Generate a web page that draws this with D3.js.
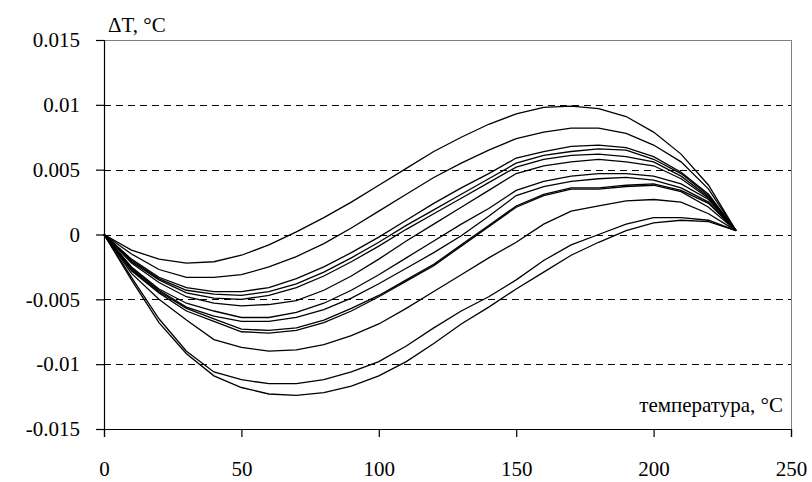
<!DOCTYPE html>
<html>
  <head>
    <meta charset="utf-8" />
    <title>ΔT vs temperature</title>
    <style>
      body { margin: 0; background: #fff; }
      svg text { font-family: "Liberation Serif", "Tinos", "Times New Roman", "DejaVu Serif", serif; fill: #000; }
      .grid line { stroke: #000; stroke-dasharray: 7,5; shape-rendering: crispEdges; }
      .curve { fill: none; stroke: #000; stroke-width: 1.3; }
    </style>
  </head>
  <body>
    <svg width="812" height="482"></svg>

    <script type="text/javascript" src="https://d3js.org/d3.v7.min.js"></script>
    <script type="text/javascript">
      // temperature points, °C
      const temps = [0, 10, 20, 30, 40, 50, 60, 70, 80, 90, 100, 110, 120, 130, 140, 150, 160, 170, 180, 190, 200, 210, 220, 230];

      // ΔT curves, °C (top to bottom)
      const dT1  = [0, -0.0012, -0.0019, -0.0022, -0.0021, -0.0016, -0.0008, 0.0002, 0.0013, 0.0025, 0.0038, 0.0051, 0.0064, 0.0075, 0.0085, 0.0093, 0.0098, 0.0099, 0.0097, 0.0091, 0.0079, 0.0062, 0.0038, 0.0003];
      const dT2  = [0, -0.0015, -0.0027, -0.0033, -0.0033, -0.0031, -0.0025, -0.0017, -0.0007, 0.0005, 0.0018, 0.0031, 0.0044, 0.0055, 0.0065, 0.0074, 0.0079, 0.0082, 0.0082, 0.0078, 0.0069, 0.0056, 0.0035, 0.0003];
      const dT3  = [0, -0.0019, -0.0033, -0.0041, -0.0044, -0.0044, -0.0041, -0.0034, -0.0025, -0.0014, -0.0002, 0.0011, 0.0024, 0.0036, 0.0047, 0.0059, 0.0064, 0.0068, 0.0069, 0.0067, 0.0060, 0.0048, 0.0031, 0.0003];
      const dT4  = [0, -0.0020, -0.0034, -0.0043, -0.0046, -0.0047, -0.0044, -0.0038, -0.0029, -0.0018, -0.0006, 0.0007, 0.0019, 0.0031, 0.0043, 0.0055, 0.0061, 0.0064, 0.0066, 0.0065, 0.0058, 0.0047, 0.0030, 0.0003];
      const dT5  = [0, -0.0021, -0.0035, -0.0045, -0.0049, -0.0050, -0.0047, -0.0041, -0.0032, -0.0021, -0.0009, 0.0004, 0.0016, 0.0028, 0.0040, 0.0052, 0.0058, 0.0061, 0.0062, 0.0060, 0.0056, 0.0045, 0.0029, 0.0003];
      const dT6  = [0, -0.0022, -0.0037, -0.0048, -0.0053, -0.0055, -0.0054, -0.0051, -0.0043, -0.0032, -0.0019, -0.0005, 0.0008, 0.0021, 0.0034, 0.0047, 0.0053, 0.0056, 0.0058, 0.0056, 0.0053, 0.0043, 0.0028, 0.0003];
      const dT7  = [0, -0.0025, -0.0042, -0.0053, -0.0059, -0.0064, -0.0064, -0.0060, -0.0053, -0.0043, -0.0031, -0.0018, -0.0005, 0.0008, 0.0020, 0.0034, 0.0041, 0.0045, 0.0047, 0.0047, 0.0045, 0.0039, 0.0027, 0.0003];
      const dT8  = [0, -0.0026, -0.0043, -0.0056, -0.0063, -0.0067, -0.0067, -0.0064, -0.0058, -0.0049, -0.0038, -0.0026, -0.0014, -0.0001, 0.0014, 0.0030, 0.0037, 0.0041, 0.0043, 0.0044, 0.0042, 0.0036, 0.0025, 0.0003];
      const dT9  = [0, -0.0027, -0.0044, -0.0057, -0.0065, -0.0073, -0.0074, -0.0072, -0.0066, -0.0057, -0.0047, -0.0035, -0.0023, -0.0008, 0.0007, 0.0022, 0.0031, 0.0036, 0.0036, 0.0038, 0.0039, 0.0034, 0.0024, 0.0003];
      const dT10 = [0, -0.0028, -0.0045, -0.0059, -0.0067, -0.0075, -0.0076, -0.0074, -0.0068, -0.0059, -0.0048, -0.0036, -0.0024, -0.0009, 0.0006, 0.0021, 0.0030, 0.0035, 0.0035, 0.0037, 0.0038, 0.0033, 0.0021, 0.0003];
      const dT11 = [0, -0.0030, -0.0050, -0.0066, -0.0081, -0.0087, -0.0090, -0.0089, -0.0085, -0.0078, -0.0069, -0.0057, -0.0044, -0.0031, -0.0018, -0.0006, 0.0008, 0.0018, 0.0022, 0.0026, 0.0027, 0.0025, 0.0016, 0.0003];
      const dT12 = [0, -0.0033, -0.0065, -0.0090, -0.0106, -0.0112, -0.0115, -0.0115, -0.0112, -0.0106, -0.0098, -0.0086, -0.0072, -0.0059, -0.0048, -0.0035, -0.0020, -0.0008, 0.0000, 0.0008, 0.0013, 0.0013, 0.0011, 0.0003];
      const dT13 = [0, -0.0035, -0.0068, -0.0092, -0.0109, -0.0118, -0.0123, -0.0124, -0.0122, -0.0117, -0.0109, -0.0098, -0.0084, -0.0069, -0.0056, -0.0042, -0.0029, -0.0016, -0.0006, 0.0003, 0.0009, 0.0011, 0.0010, 0.0003];

      const series = [dT1, dT2, dT3, dT4, dT5, dT6, dT7, dT8, dT9, dT10, dT11, dT12, dT13];

      // axis ticks
      const xTicks = [0, 50, 100, 150, 200, 250];
      const yTicks = [-0.015, -0.01, -0.005, 0, 0.005, 0.01, 0.015];
      const gridTicks = [-0.01, -0.005, 0, 0.005, 0.01];

      const yTitle = "ΔT, °C";
      const xTitle = "температура, °C";

      const serifFont = '"Liberation Serif", "Tinos", "Times New Roman", "DejaVu Serif", serif';

      let svg = d3.select("svg");
      const mLeft = 104, mRight = 791, mTop = 40, mBottom = 429;

      const x = d3.scaleLinear().domain([0, 250]).range([mLeft, mRight]);
      const y = d3.scaleLinear().domain([-0.015, 0.015]).range([mBottom, mTop]);

      // plot area border (top and right, grey)
      svg.append("path")
        .attr("d", `M${mLeft},${mTop + 0.5}H${mRight + 0.5}V${mBottom}`)
        .attr("fill", "none")
        .attr("stroke", "#808080")
        .attr("stroke-width", 1)
        .attr("shape-rendering", "crispEdges");

      // dashed gridlines
      svg.append("g")
        .attr("class", "grid")
        .selectAll("line")
        .data(gridTicks)
        .enter().append("line")
        .attr("x1", mLeft)
        .attr("x2", mRight)
        .attr("y1", d => Math.round(y(d)) + 0.5)
        .attr("y2", d => Math.round(y(d)) + 0.5);

      // curves
      const line = d3.line()
        .x((d, i) => x(temps[i]))
        .y(d => y(d));

      svg.append("g")
        .selectAll("path")
        .data(series)
        .enter().append("path")
        .attr("class", "curve")
        .attr("d", line);

      // axes
      const fmt = d => (d === 0 ? "0" : String(+d.toFixed(3)));

      const yAxis = svg.append("g")
        .attr("transform", `translate(${mLeft},0)`)
        .call(d3.axisLeft(y).tickValues(yTicks).tickFormat(fmt).tickSize(8).tickPadding(16));

      const xAxis = svg.append("g")
        .attr("transform", `translate(0,${mBottom})`)
        .call(d3.axisBottom(x).tickValues(xTicks).tickFormat(d => d).tickSize(8).tickPadding(24));

      [yAxis, xAxis].forEach(a => {
        a.attr("font-family", serifFont).attr("font-size", 21);
        a.select(".domain").attr("stroke", "#000").attr("stroke-width", 1.2);
        a.selectAll(".tick line").attr("stroke", "#000").attr("stroke-width", 1.2);
        a.selectAll(".tick text")
          .attr("font-family", serifFont)
          .style("font-family", serifFont)
          .style("font-size", "21px");
      });

      // axis titles
      svg.append("text")
        .attr("x", 108)
        .attr("y", 32)
        .style("font-family", serifFont)
        .style("font-size", "21px")
        .text(yTitle);

      svg.append("text")
        .attr("x", 783)
        .attr("y", 412)
        .attr("text-anchor", "end")
        .style("font-family", serifFont)
        .style("font-size", "21px")
        .text(xTitle);
    </script>
  </body>
</html>
